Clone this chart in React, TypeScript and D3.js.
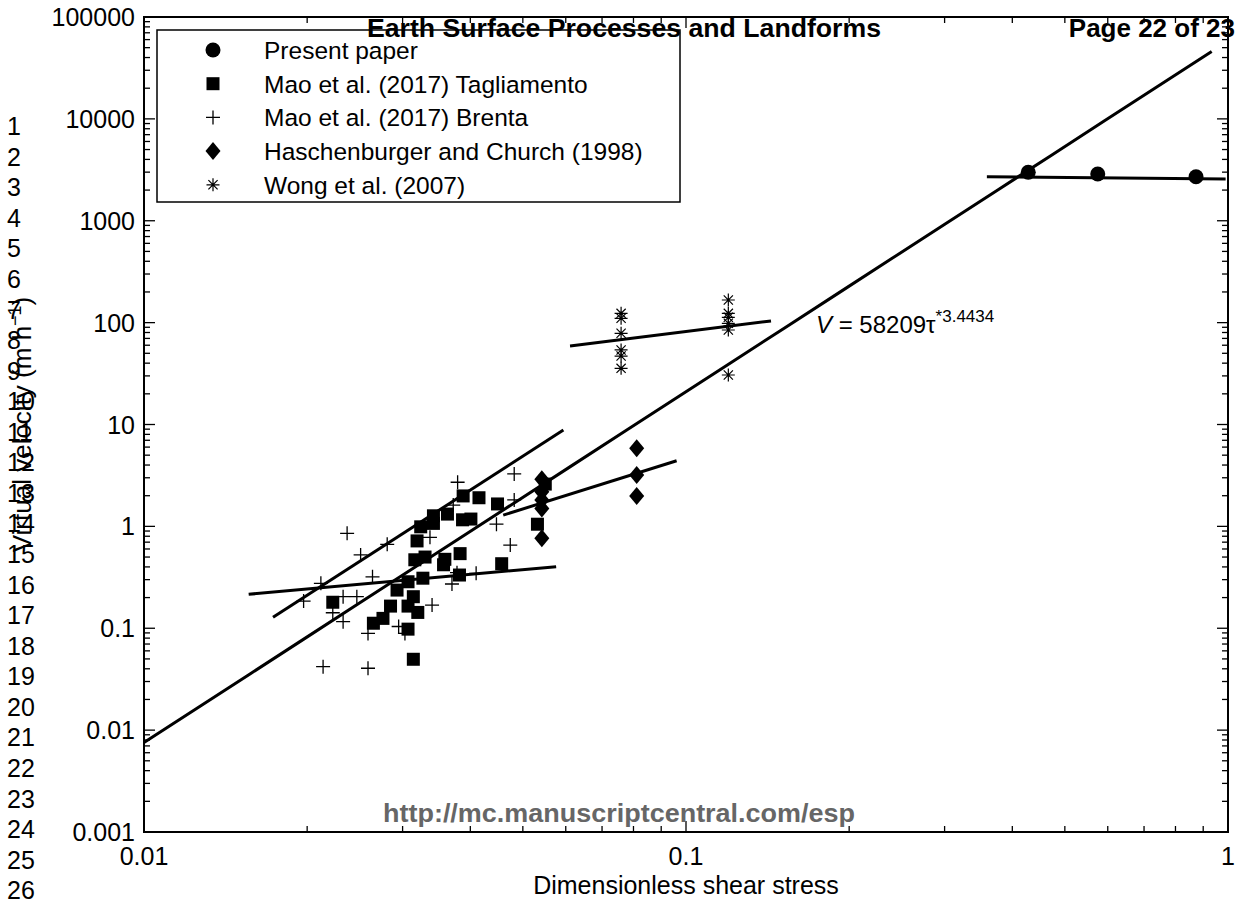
import React from "react";
import * as d3 from "d3";

// ---------- data ----------
const presentX = [0.428, 0.575, 0.873];
const presentV = [2990, 2876, 2706];

const taglX = [0.0388, 0.0415, 0.0449, 0.0342, 0.0363, 0.0342, 0.0387, 0.0401, 0.0324, 0.0319, 0.0383, 0.0457, 0.0359, 0.0357, 0.0316, 0.033, 0.0307, 0.0327, 0.0382, 0.0293, 0.0314, 0.0285, 0.0307, 0.032, 0.0276, 0.0265, 0.0307, 0.0314, 0.0532, 0.055, 0.0223];
const taglV = [1.99, 1.91, 1.66, 1.27, 1.32, 1.07, 1.16, 1.18, 0.99, 0.72, 0.54, 0.43, 0.475, 0.42, 0.47, 0.5, 0.286, 0.31, 0.333, 0.237, 0.204, 0.165, 0.165, 0.143, 0.125, 0.112, 0.098, 0.0496, 1.05, 2.6, 0.18];

const brentaX = [0.0237, 0.0251, 0.0281, 0.0264, 0.0212, 0.0197, 0.0233, 0.0247, 0.0223, 0.0233, 0.0259, 0.0295, 0.0214, 0.0259, 0.0379, 0.0482, 0.0482, 0.0372, 0.0337, 0.0447, 0.0474, 0.0378, 0.037, 0.041, 0.034, 0.0303];
const brentaV = [0.855, 0.524, 0.667, 0.32, 0.276, 0.185, 0.204, 0.204, 0.142, 0.116, 0.089, 0.104, 0.042, 0.0405, 2.71, 3.27, 1.82, 1.62, 0.78, 1.05, 0.656, 0.351, 0.272, 0.346, 0.169, 0.089];

const haschX = [0.0542, 0.0542, 0.0542, 0.0542, 0.0542, 0.0811, 0.0811, 0.0811];
const haschV = [2.9, 2.19, 1.82, 1.5, 0.764, 5.84, 3.19, 1.99];

const wongX = [0.0759, 0.0759, 0.0759, 0.0759, 0.0759, 0.0759, 0.1197, 0.1197, 0.1197, 0.1197, 0.1197, 0.1197];
const wongV = [123.4, 110.3, 78.6, 53.9, 47.0, 35.6, 166.7, 123.4, 112.8, 98.5, 84.6, 30.6];

// power-law fit V = a * tau^b
const fitA = 58209;
const fitB = 3.4434;
const fitTauRange = [0.01, 0.933];

// other fit lines (end points)
const fitPresentX = [0.359, 0.99];
const fitPresentV = [2704, 2570];
const fitWongX = [0.0611, 0.1435];
const fitWongV = [59, 104];
const fitHaschX = [0.046, 0.0961];
const fitHaschV = [1.29, 4.41];
const fitBrentaX = [0.0173, 0.0594];
const fitBrentaV = [0.128, 8.83];
const fitTaglX = [0.0156, 0.0576];
const fitTaglV = [0.2155, 0.402];

const xTickValues = [0.01, 0.1, 1];
const xTickLabels = ["0.01", "0.1", "1"];
const yTickValues = [0.001, 0.01, 0.1, 1, 10, 100, 1000, 10000, 100000];
const yTickLabels = ["0.001", "0.01", "0.1", "1", "10", "100", "1000", "10000", "100000"];

const legendLabels = [
  "Present paper",
  "Mao et al. (2017) Tagliamento",
  "Mao et al. (2017) Brenta",
  "Haschenburger and Church (1998)",
  "Wong et al. (2007)",
];

const lineNumbers = d3.range(1, 27);

// ---------- layout ----------
const W = 1246;
const H = 901;
const PL = 144, PR = 1228, PT = 17, PB = 832;
const FONT = "'Liberation Sans', Arial, Helvetica, sans-serif";

const x = d3.scaleLog().domain([0.01, 1]).range([PL, PR]);
const y = d3.scaleLog().domain([0.001, 100000]).range([PB, PT]);

function minorTicks(lo: number, hi: number) {
  const out: { v: number; major: boolean }[] = [];
  for (let e = Math.round(Math.log10(lo)); e < Math.round(Math.log10(hi)); e++) {
    for (let k = 1; k <= 9; k++) out.push({ v: k * Math.pow(10, e), major: k === 1 });
  }
  out.push({ v: hi, major: true });
  return out;
}

type MK = "circle" | "square" | "plus" | "diamond" | "star";

function Marker({ kind, cx, cy }: { kind: MK; cx: number; cy: number }) {
  if (kind === "circle") return <circle cx={cx} cy={cy} r={7.5} fill="#000" />;
  if (kind === "square") return <rect x={cx - 6.5} y={cy - 6.5} width={13} height={13} fill="#000" />;
  if (kind === "diamond")
    return <path d={`M${cx},${cy - 9}L${cx + 7.5},${cy}L${cx},${cy + 9}L${cx - 7.5},${cy}Z`} fill="#000" />;
  if (kind === "plus")
    return (
      <path d={`M${cx - 7},${cy}H${cx + 7}M${cx},${cy - 7}V${cy + 7}`} stroke="#000" strokeWidth={1.3} fill="none" />
    );
  const a = 6.5, b = 4.6;
  return (
    <path
      d={`M${cx - a},${cy}H${cx + a}M${cx},${cy - a}V${cy + a}M${cx - b},${cy - b}L${cx + b},${cy + b}M${cx - b},${cy + b}L${cx + b},${cy - b}`}
      stroke="#000"
      strokeWidth={1.2}
      fill="none"
    />
  );
}

const line = d3
  .line<[number, number]>()
  .x((d) => x(d[0]))
  .y((d) => y(d[1]));

export default function App() {
  const xt = minorTicks(0.01, 1);
  const yt = minorTicks(0.001, 100000);
  const mainFit: [number, number][] = d3
    .range(0, 21)
    .map((i) => {
      const t = Math.exp(Math.log(fitTauRange[0]) + (i / 20) * (Math.log(fitTauRange[1]) - Math.log(fitTauRange[0])));
      return [t, fitA * Math.pow(t, fitB)];
    });
  const segs: [number[], number[]][] = [
    [fitPresentX, fitPresentV],
    [fitWongX, fitWongV],
    [fitHaschX, fitHaschV],
    [fitBrentaX, fitBrentaV],
    [fitTaglX, fitTaglV],
  ];
  const series: { kind: MK; xs: number[]; vs: number[] }[] = [
    { kind: "circle", xs: presentX, vs: presentV },
    { kind: "square", xs: taglX, vs: taglV },
    { kind: "plus", xs: brentaX, vs: brentaV },
    { kind: "diamond", xs: haschX, vs: haschV },
    { kind: "star", xs: wongX, vs: wongV },
  ];
  const MAJ = 11, MIN = 6;
  return (
    <svg
      width={W}
      height={H}
      style={{ position: "absolute", left: 0, top: 0, background: "#fff" }}
      fontFamily={FONT}
    >
      <rect x={0} y={0} width={W} height={H} fill="#fff" />
      {/* fit lines */}
      <path d={line(mainFit) || ""} stroke="#000" strokeWidth={3} fill="none" />
      {segs.map(([xs, vs], i) => (
        <path
          key={i}
          d={line(xs.map((v, j) => [v, vs[j]] as [number, number])) || ""}
          stroke="#000"
          strokeWidth={3}
          fill="none"
        />
      ))}
      {/* markers */}
      {series.map((s, si) =>
        s.xs.map((v, i) => <Marker key={si + "-" + i} kind={s.kind} cx={x(v)} cy={y(s.vs[i])} />)
      )}
      {/* axes box */}
      <rect x={PL} y={PT} width={PR - PL} height={PB - PT} fill="none" stroke="#000" strokeWidth={2} />
      {xt.map((t, i) => {
        const px = x(t.v);
        const L = t.major ? MAJ : MIN;
        return (
          <g key={"xt" + i} stroke="#000" strokeWidth={1.3}>
            <line x1={px} x2={px} y1={PB} y2={PB - L} />
            <line x1={px} x2={px} y1={PT} y2={PT + L} />
          </g>
        );
      })}
      {yt.map((t, i) => {
        const py = y(t.v);
        const L = t.major ? MAJ : MIN;
        return (
          <g key={"yt" + i} stroke="#000" strokeWidth={1.3}>
            <line x1={PL} x2={PL + L} y1={py} y2={py} />
            <line x1={PR} x2={PR - L} y1={py} y2={py} />
          </g>
        );
      })}
      {xTickValues.map((v, i) => (
        <text key={"xl" + i} x={x(v)} y={865} textAnchor="middle" fontSize={25} fill="#000">
          {xTickLabels[i]}
        </text>
      ))}
      {yTickValues.map((v, i) => (
        <text key={"yl" + i} x={135} y={y(v) + 9} textAnchor="end" fontSize={25} fill="#000">
          {yTickLabels[i]}
        </text>
      ))}
      <text x={(PL + PR) / 2} y={894} textAnchor="middle" fontSize={25} fill="#000">
        Dimensionless shear stress
      </text>
      <text transform={`translate(31,${(PT + PB) / 2}) rotate(-90)`} textAnchor="middle" fontSize={26} fill="#000">
        Virtual velocity (m h
        <tspan dy={-10} fontSize={18}>−1</tspan>
        <tspan dy={10}>)</tspan>
      </text>
      {/* equation */}
      <text x={816} y={333} fontSize={24} fill="#000">
        <tspan fontStyle="italic">V</tspan>
        <tspan> = 58209τ</tspan>
        <tspan dy={-11} fontSize={17}>*3.4434</tspan>
      </text>
      {/* legend */}
      <rect x={157} y={30} width={523} height={172} fill="#fff" stroke="#000" strokeWidth={1.5} />
      {legendLabels.map((lab, i) => {
        const cy = 50 + i * 33.7;
        return (
          <g key={"lg" + i}>
            <Marker kind={series[i].kind} cx={213} cy={cy} />
            <text x={264} y={cy + 9} fontSize={24.5} fill="#000">
              {lab}
            </text>
          </g>
        );
      })}
      {/* page overlay */}
      <text x={367} y={37} fontSize={26} fontWeight="bold" fill="#000" textLength={514} lengthAdjust="spacingAndGlyphs">
        Earth Surface Processes and Landforms
      </text>
      <text x={1235} y={37} fontSize={26} fontWeight="bold" textAnchor="end" fill="#000">
        Page 22 of 23
      </text>
      <text x={383} y={822} fontSize={25} fontWeight="bold" fill="#666" textLength={472} lengthAdjust="spacingAndGlyphs">
        http://mc.manuscriptcentral.com/esp
      </text>
      {lineNumbers.map((n) => (
        <text key={"ln" + n} x={7} y={288 + (n - 6) * 30.56} fontSize={25} fill="#000">
          {n}
        </text>
      ))}
    </svg>
  );
}
